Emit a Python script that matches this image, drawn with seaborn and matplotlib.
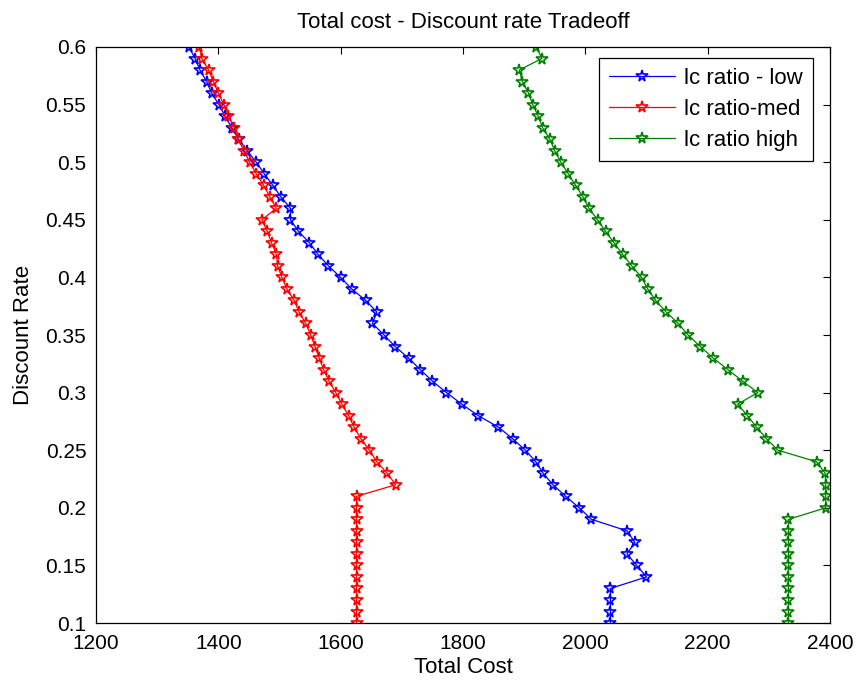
import matplotlib
matplotlib.use("Agg")
import matplotlib.pyplot as plt
import matplotlib.ticker as mticker
import seaborn as sns
import pandas as pd

rates = [0.10, 0.11, 0.12, 0.13, 0.14, 0.15, 0.16, 0.17, 0.18, 0.19,
         0.20, 0.21, 0.22, 0.23, 0.24, 0.25, 0.26, 0.27, 0.28, 0.29,
         0.30, 0.31, 0.32, 0.33, 0.34, 0.35, 0.36, 0.37, 0.38, 0.39,
         0.40, 0.41, 0.42, 0.43, 0.44, 0.45, 0.46, 0.47, 0.48, 0.49,
         0.50, 0.51, 0.52, 0.53, 0.54, 0.55, 0.56, 0.57, 0.58, 0.59, 0.60]

cost_low = [2041, 2041, 2041, 2041, 2100, 2084, 2068, 2081, 2068, 2010,
            1990, 1968, 1947, 1931, 1919, 1902, 1881, 1858, 1825, 1798,
            1773, 1750, 1730, 1711, 1689, 1671, 1652, 1659, 1641, 1618,
            1600, 1580, 1563, 1549, 1531, 1518, 1518, 1502, 1489, 1475,
            1462, 1447, 1433, 1422, 1411, 1401, 1389, 1381, 1370, 1362, 1352]

cost_med = [1626, 1626, 1626, 1626, 1626, 1626, 1626, 1626, 1626, 1626,
            1626, 1626, 1690, 1676, 1659, 1647, 1633, 1622, 1613, 1602,
            1592, 1581, 1572, 1565, 1558, 1551, 1543, 1532, 1524, 1512,
            1504, 1497, 1495, 1487, 1480, 1471, 1495, 1484, 1474, 1462,
            1451, 1442, 1432, 1426, 1416, 1409, 1400, 1392, 1384, 1373, 1369]

cost_high = [2332, 2332, 2332, 2332, 2332, 2332, 2332, 2332, 2332, 2332,
             2393, 2393, 2393, 2392, 2378, 2315, 2296, 2280, 2265, 2249,
             2282, 2257, 2233, 2209, 2188, 2168, 2152, 2132, 2115, 2102,
             2092, 2076, 2061, 2047, 2033, 2020, 2006, 1996, 1984, 1972,
             1960, 1950, 1942, 1930, 1923, 1914, 1907, 1897, 1892, 1929, 1920]

labels = ["lc ratio - low", "lc ratio-med", "lc ratio high"]
colors = ["#0000ff", "#ff0000", "#008000"]

x_ticks = [1200, 1400, 1600, 1800, 2000, 2200, 2400]
y_ticks = [0.1, 0.15, 0.2, 0.25, 0.3, 0.35, 0.4, 0.45, 0.5, 0.55, 0.6]

frames = []
for lab, vals in zip(labels, [cost_low, cost_med, cost_high]):
    frames.append(pd.DataFrame({"cost": vals, "rate": rates, "series": lab}))
df = pd.concat(frames, ignore_index=True)

sns.set_theme(style="white")
plt.rcParams["font.family"] = ["Liberation Sans", "DejaVu Sans"]
plt.rcParams["text.color"] = "black"
plt.rcParams["axes.labelcolor"] = "black"

fig = plt.figure(figsize=(8.57, 6.83), dpi=100)
ax = fig.add_axes([0.112, 0.0878, 0.8565, 0.8434])

sns.lineplot(data=df, x="cost", y="rate", hue="series", hue_order=labels,
             palette=colors, sort=False, estimator=None, marker="*",
             markersize=8.5, linewidth=0.9, ax=ax)

for ln in ax.lines:
    c = ln.get_color()
    ln.set_markeredgecolor(c)
    ln.set_markerfacecolor("none")
    ln.set_markeredgewidth(1.2)

ax.set_xlim(1200, 2400)
ax.set_ylim(0.1, 0.6)
ax.set_xticks(x_ticks)
ax.set_yticks(y_ticks)
ax.yaxis.set_major_formatter(mticker.FuncFormatter(lambda v, p: "%g" % v))
ax.tick_params(direction="in", length=5, width=0.8, top=True, right=True,
               labelsize=15, colors="black")
ax.tick_params(axis="x", pad=8)
ax.tick_params(axis="y", pad=7)
for s in ax.spines.values():
    s.set_visible(True)
    s.set_color("black")
    s.set_linewidth(0.9)

ax.set_title("Total cost - Discount rate Tradeoff", fontsize=16, pad=14,
             color="black")
ax.set_xlabel("Total Cost", fontsize=16, labelpad=3)
ax.set_ylabel("Discount Rate", fontsize=16, labelpad=8)

leg = ax.legend(loc="upper right", bbox_to_anchor=(0.977, 0.981),
                fontsize=16, frameon=True, fancybox=False, handlelength=3.0,
                labelspacing=0.45, borderpad=0.45, handletextpad=0.4,
                borderaxespad=0)
for ln in leg.get_lines():
    c = ln.get_color()
    ln.set_markeredgecolor(c)
    ln.set_markerfacecolor("none")
    ln.set_markeredgewidth(1.2)
for t in leg.get_texts():
    t.set_color("black")
leg.get_frame().set_edgecolor("black")
leg.get_frame().set_linewidth(0.9)
leg.get_frame().set_alpha(1)

fig.savefig("out.png", dpi=100)
